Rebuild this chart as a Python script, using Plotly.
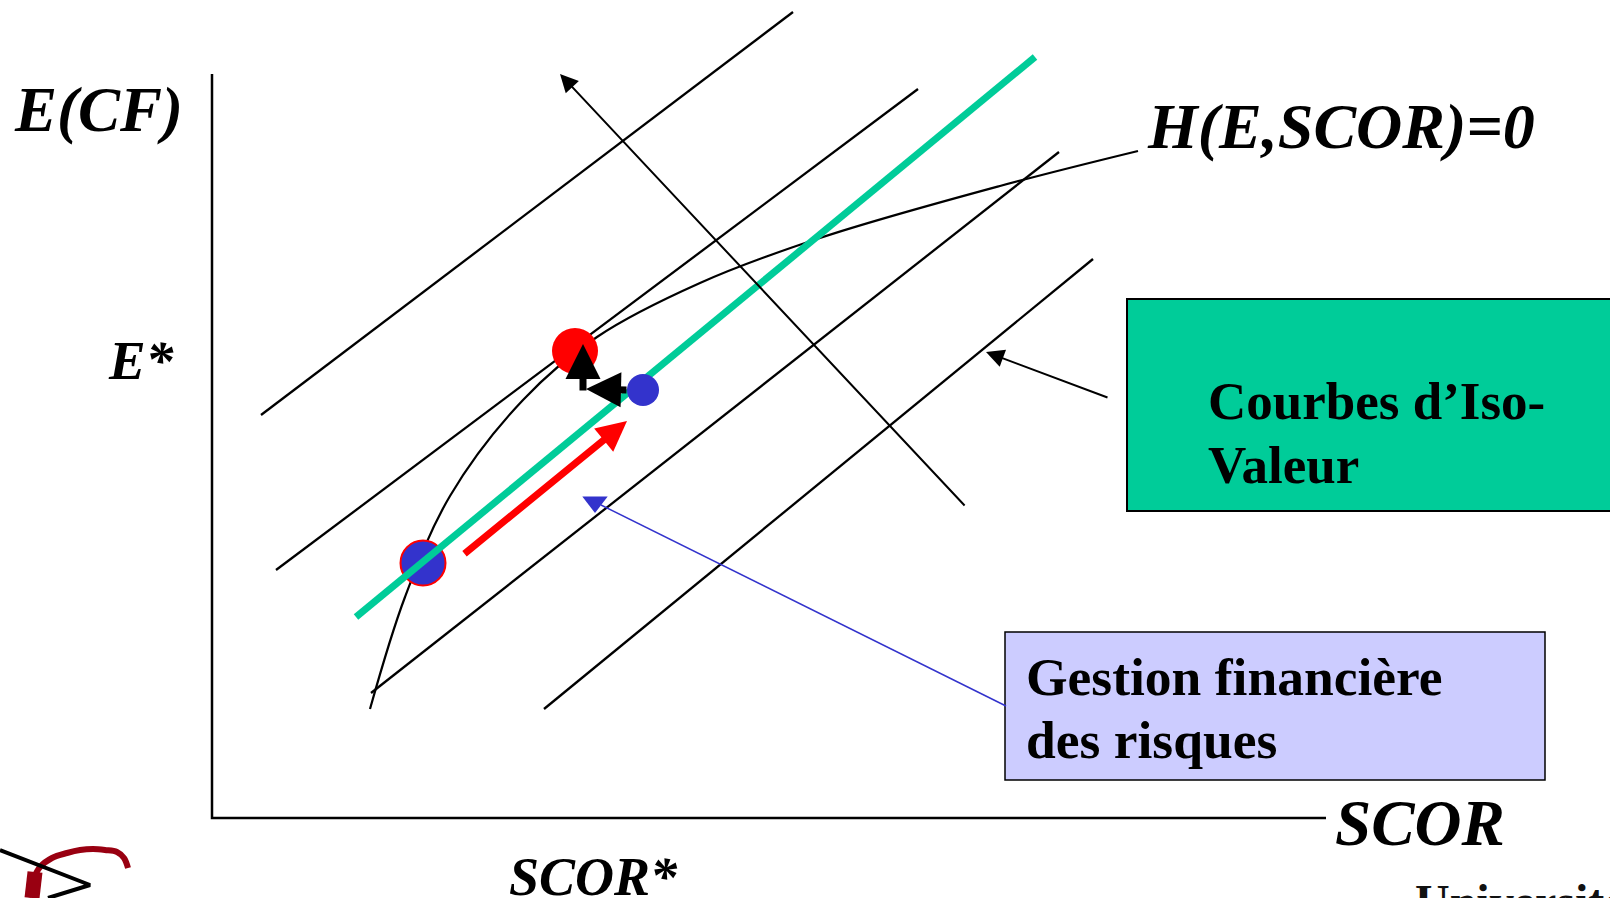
import plotly.graph_objects as go

W, H = 1610, 898

# ---- data (diagram coordinates, pixel space of the slide) ----
axis_x = [212, 212, 1326]
axis_y = [74, 818, 818]

iso_x = [[261, 793], [276, 918], [371, 1059], [544, 1093]]
iso_y = [[415, 12], [570, 89], [693, 152], [709, 259]]

green_x = [356, 1035]
green_y = [617, 57]

h_curve_x = [370, 405, 450, 523, 597, 700, 820, 1000, 1138]
h_curve_y = [709, 597, 496, 400, 337, 283, 238, 186, 151]

red_dot = (575, 351)
blue_dot_small = (643, 390)
blue_dot_big = (423, 563)

# arrows: (tail_x, tail_y, head_x, head_y)
perp_arrow = (966, 507, 560, 74)
iso_arrow = (1109, 398, 986, 352)
red_arrow = (463, 555, 627, 421)
black_arrow_h = (628, 390, 586, 389)
black_arrow_v = (583, 392, 583, 344)

blue_pointer_x = [1006, 601]
blue_pointer_y = [706, 505]
blue_tri = (595, 502)

green_box = (1127, 299, 1620, 511)
lilac_box = (1005, 632, 1545, 780)

logo_arc_x = [28, 33, 40, 52, 67, 80, 93, 105, 117, 124, 128]
logo_arc_y = [897, 880, 867, 858, 853, 850, 849, 850, 852, 858, 868]
logo_black_x = [0, 90, 48]
logo_black_y = [850, 885, 898]

serif = "Liberation Serif"

fig = go.Figure()

# axes
fig.add_trace(go.Scatter(x=axis_x, y=axis_y, mode="lines",
                         line=dict(color="black", width=2.5), hoverinfo="skip"))

# iso-value lines
for xs, ys in zip(iso_x, iso_y):
    fig.add_trace(go.Scatter(x=xs, y=ys, mode="lines",
                             line=dict(color="black", width=2.3), hoverinfo="skip"))

# H curve
fig.add_trace(go.Scatter(x=h_curve_x, y=h_curve_y, mode="lines",
                         line=dict(color="black", width=2.2, shape="spline", smoothing=1.0),
                         hoverinfo="skip"))

# big blue dot (below green line)
fig.add_trace(go.Scatter(x=[blue_dot_big[0]], y=[blue_dot_big[1]], mode="markers",
                         marker=dict(size=45, color="#3333CC", line=dict(color="#FF0000", width=2)),
                         hoverinfo="skip"))

# green line
fig.add_trace(go.Scatter(x=green_x, y=green_y, mode="lines",
                         line=dict(color="#00CC99", width=7), hoverinfo="skip"))

# red dot and small blue dot
fig.add_trace(go.Scatter(x=[red_dot[0]], y=[red_dot[1]], mode="markers",
                         marker=dict(size=46, color="#FF0000"), hoverinfo="skip"))
fig.add_trace(go.Scatter(x=[blue_dot_small[0]], y=[blue_dot_small[1]], mode="markers",
                         marker=dict(size=32, color="#3333CC"), hoverinfo="skip"))

# blue pointer
fig.add_trace(go.Scatter(x=blue_pointer_x, y=blue_pointer_y, mode="lines",
                         line=dict(color="#3333CC", width=1.5), hoverinfo="skip"))
fig.add_trace(go.Scatter(x=[blue_tri[0]], y=[blue_tri[1]], mode="markers",
                         marker=dict(symbol="triangle-down", size=22, color="#3333CC"),
                         hoverinfo="skip"))

# logo
fig.add_trace(go.Scatter(x=logo_arc_x, y=logo_arc_y, mode="lines",
                         line=dict(color="#990011", width=6, shape="spline"), hoverinfo="skip"))
fig.add_trace(go.Scatter(x=[35, 32], y=[872, 898], mode="lines",
                         line=dict(color="#990011", width=15), hoverinfo="skip"))
fig.add_trace(go.Scatter(x=logo_black_x, y=logo_black_y, mode="lines",
                         line=dict(color="black", width=4), hoverinfo="skip"))

# boxes
fig.add_shape(type="rect", x0=green_box[0], y0=green_box[1], x1=green_box[2], y1=green_box[3],
              xref="x", yref="y", fillcolor="#00CC99", line=dict(color="black", width=2),
              layer="below")
fig.add_shape(type="rect", x0=lilac_box[0], y0=lilac_box[1], x1=lilac_box[2], y1=lilac_box[3],
              xref="x", yref="y", fillcolor="#CCCCFF", line=dict(color="black", width=1.5),
              layer="below")


def arrow(a, color, width, head, size):
    fig.add_annotation(x=a[2], y=a[3], ax=a[0], ay=a[1], xref="x", yref="y",
                       axref="x", ayref="y", text="", showarrow=True,
                       arrowhead=head, arrowsize=size, arrowwidth=width,
                       arrowcolor=color, standoff=0, startstandoff=0)


arrow(perp_arrow, "black", 2, 2, 1.8)
arrow(iso_arrow, "black", 2, 2, 1.8)
arrow(red_arrow, "#FF0000", 7, 2, 0.86)
arrow(black_arrow_h, "black", 7, 2, 1.0)
arrow(black_arrow_v, "black", 7, 2, 1.0)


def label(txt, x, y, size, italic=True, xanchor="left", yanchor="middle", color="black"):
    fig.add_annotation(x=x, y=y, xref="x", yref="y", text=txt, showarrow=False,
                       xanchor=xanchor, yanchor=yanchor,
                       font=dict(family=serif, size=size, color=color, weight="bold",
                                 style="italic" if italic else "normal"))


label("E(CF)", 12, 110, 63)
label("E*", 106, 360, 55)
label("H(E,SCOR)=0", 1145, 126, 64)
label("SCOR", 1333, 823, 65)
label("SCOR*", 507, 877, 54)
label("Courbes d’Iso-", 1206, 401, 53, italic=False)
label("Valeur", 1206, 465, 53, italic=False)
label("Gestion financière", 1024, 677, 53.5, italic=False)
label("des risques", 1024, 740, 53.5, italic=False)
label("Université", 1413, 873, 48, italic=False, yanchor="top", color="#111111")

fig.update_xaxes(range=[0, W], visible=False, fixedrange=True)
fig.update_yaxes(range=[H, 0], visible=False, fixedrange=True)
fig.update_layout(width=W, height=H, margin=dict(l=0, r=0, t=0, b=0),
                  paper_bgcolor="white", plot_bgcolor="white", showlegend=False)

fig.write_html("out.html", config={"displayModeBar": False},
               post_script="document.body.style.margin='0px';")
